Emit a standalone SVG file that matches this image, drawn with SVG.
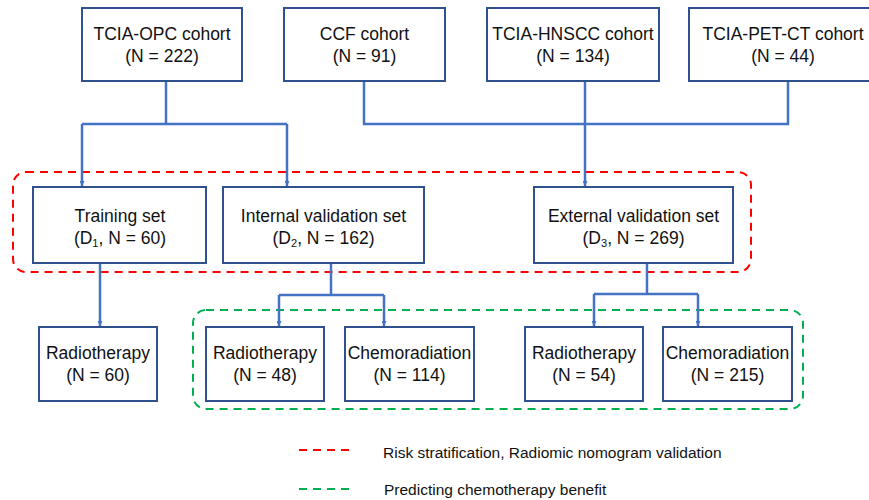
<svg xmlns="http://www.w3.org/2000/svg" width="869" height="500" viewBox="0 0 869 500">
<defs>
<marker id="arr" viewBox="0 0 10 10" refX="10" refY="5" markerWidth="5" markerHeight="5" markerUnits="userSpaceOnUse" orient="auto">
<path d="M0,0 L10,5 L0,10 z" fill="#4472C4"/>
</marker>
<style>
.box{fill:#fff;stroke:#2F528F;stroke-width:2}
.t{font-family:"Liberation Sans",Arial,sans-serif;font-size:17.5px;fill:#111;text-anchor:middle}
.sub{font-size:11px}
.c{fill:none;stroke:#4472C4;stroke-width:2.5}
.lg{font-family:"Liberation Sans",Arial,sans-serif;font-size:15.5px;fill:#111}
.red{fill:none;stroke:#FF0000;stroke-width:2;stroke-dasharray:8,6}
.grn{fill:none;stroke:#00B050;stroke-width:2;stroke-dasharray:8,6}
</style>
</defs>
<rect width="869" height="500" fill="#fff"/>
<g id="groups">
<rect class="red" x="13" y="172" width="738" height="100" rx="13"/>
<rect class="grn" x="193" y="310" width="610" height="99" rx="13"/>
</g>
<g id="connectors">
<path class="c" d="M166,81 V124"/>
<path class="c" d="M82,124 H287"/>
<path class="c" d="M82,124 V186" marker-end="url(#arr)"/>
<path class="c" d="M287,124 V186" marker-end="url(#arr)"/>
<path class="c" d="M364,81 V124 H788 V81"/>
<path class="c" d="M585,81 V186" marker-end="url(#arr)"/>
<path class="c" d="M100,263 V326" marker-end="url(#arr)"/>
<path class="c" d="M331,263 V295"/>
<path class="c" d="M279,295 H384"/>
<path class="c" d="M279,295 V326" marker-end="url(#arr)"/>
<path class="c" d="M384,295 V326" marker-end="url(#arr)"/>
<path class="c" d="M647,263 V294"/>
<path class="c" d="M594,294 H698"/>
<path class="c" d="M594,294 V326" marker-end="url(#arr)"/>
<path class="c" d="M698,294 V326" marker-end="url(#arr)"/>
</g>
<g id="opc"><rect class="box" x="82" y="8" width="160" height="73"/><text class="t" x="162" y="40">TCIA-OPC cohort</text><text class="t" x="162" y="62">(N = 222)</text></g>
<g id="ccf"><rect class="box" x="284" y="8" width="161" height="73"/><text class="t" x="364.5" y="40">CCF cohort</text><text class="t" x="364.5" y="62">(N = 91)</text></g>
<g id="hnscc"><rect class="box" x="487" y="8" width="172" height="73"/><text class="t" x="573" y="40">TCIA-HNSCC cohort</text><text class="t" x="573" y="62">(N = 134)</text></g>
<g id="petct"><rect class="box" x="689" y="8" width="188" height="73"/><text class="t" x="783" y="40">TCIA-PET-CT cohort</text><text class="t" x="783" y="62">(N = 44)</text></g>
<g id="training"><rect class="box" x="33" y="187" width="173" height="76"/><text class="t" x="120" y="222">Training set</text><text class="t" x="120" y="244">(D<tspan class="sub" dy="3">1</tspan><tspan dy="-3">, N = 60)</tspan></text></g>
<g id="internal"><rect class="box" x="223" y="187" width="201" height="76"/><text class="t" x="323.5" y="222">Internal validation set</text><text class="t" x="323.5" y="244">(D<tspan class="sub" dy="3">2</tspan><tspan dy="-3">, N = 162)</tspan></text></g>
<g id="external"><rect class="box" x="534" y="187" width="199" height="76"/><text class="t" x="633.5" y="222">External validation set</text><text class="t" x="633.5" y="244">(D<tspan class="sub" dy="3">3</tspan><tspan dy="-3">, N = 269)</tspan></text></g>
<g id="rt1"><rect class="box" x="39" y="327" width="118" height="74"/><text class="t" x="98" y="359">Radiotherapy</text><text class="t" x="98" y="381">(N = 60)</text></g>
<g id="rt2"><rect class="box" x="206" y="327" width="118" height="74"/><text class="t" x="265" y="359">Radiotherapy</text><text class="t" x="265" y="381">(N = 48)</text></g>
<g id="cr2"><rect class="box" x="345" y="327" width="129" height="74"/><text class="t" x="409.5" y="359">Chemoradiation</text><text class="t" x="409.5" y="381">(N = 114)</text></g>
<g id="rt3"><rect class="box" x="525" y="327" width="118" height="74"/><text class="t" x="584" y="359">Radiotherapy</text><text class="t" x="584" y="381">(N = 54)</text></g>
<g id="cr3"><rect class="box" x="663" y="327" width="129" height="74"/><text class="t" x="727.5" y="359">Chemoradiation</text><text class="t" x="727.5" y="381">(N = 215)</text></g>
<g id="legend">
<line class="red" x1="299" y1="450" x2="354" y2="450"/>
<text class="lg" x="383" y="458">Risk stratification, Radiomic nomogram validation</text>
<line class="grn" x1="299" y1="489" x2="354" y2="489"/>
<text class="lg" x="384" y="495">Predicting chemotherapy benefit</text>
</g>
</svg>
